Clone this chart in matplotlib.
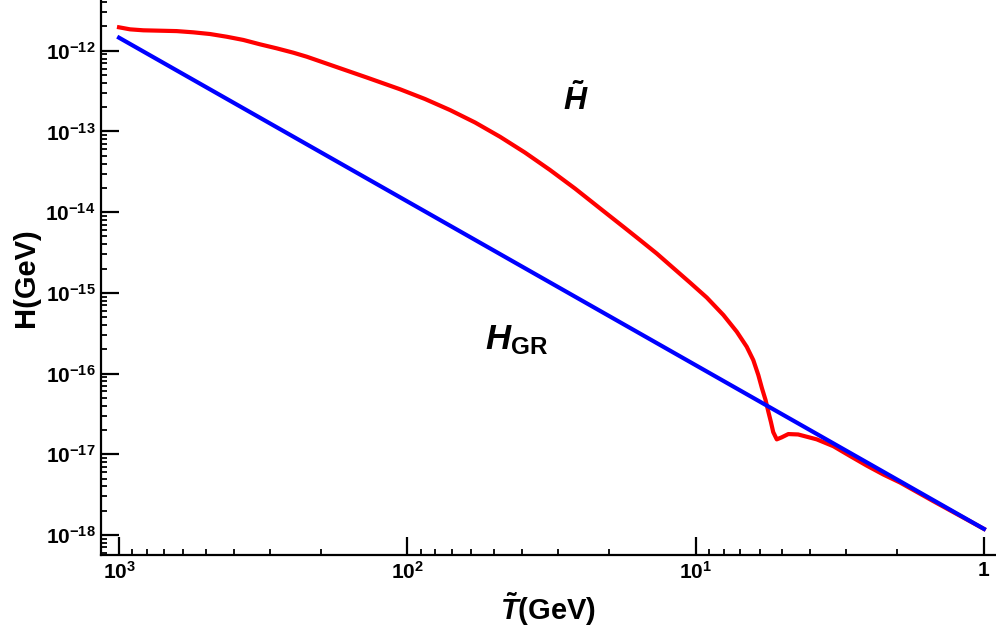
import matplotlib
matplotlib.use("Agg")
import matplotlib.pyplot as plt
from matplotlib.ticker import LogLocator, NullFormatter

# temperature (GeV) and Hubble rate (GeV)
T_mod = [1000, 915.6, 823.6, 720.8, 630.8, 552.5, 483.4, 423.0, 370.7, 324.3,
         283.8, 248.5, 223.3, 181.0, 138.3, 106.0, 86.8, 71.1, 58.2, 47.7,
         39.1, 32.0, 26.2, 21.5, 17.58, 15.59, 13.64, 11.95, 10.46, 9.15,
         8.01, 7.20, 6.65, 6.31, 6.06, 5.89, 5.72, 5.59, 5.48, 5.38, 5.23,
         5.03, 4.77, 4.41, 3.80, 3.33, 2.91, 2.55, 2.23, 1.955, 1.5, 1.2, 1.0]
H_mod = [1.95e-12, 1.84e-12, 1.79e-12, 1.77e-12, 1.75e-12, 1.69e-12,
         1.61e-12, 1.49e-12, 1.36e-12, 1.20e-12, 1.07e-12, 9.45e-13,
         8.43e-13, 6.50e-13, 4.66e-13, 3.33e-13, 2.52e-13, 1.84e-13,
         1.29e-13, 8.59e-14, 5.48e-14, 3.33e-14, 1.96e-14, 1.12e-14,
         6.35e-15, 4.51e-15, 3.07e-15, 2.03e-15, 1.34e-15, 8.75e-16,
         5.31e-16, 3.30e-16, 2.15e-16, 1.47e-16, 9.57e-17, 6.61e-17,
         4.70e-17, 3.33e-17, 2.51e-17, 1.88e-17, 1.53e-17, 1.62e-17,
         1.78e-17, 1.76e-17, 1.53e-17, 1.26e-17, 9.5e-18, 7.24e-18,
         5.6e-18, 4.47e-18, 2.63e-18, 1.70e-18, 1.19e-18]
T_gr = [1000, 1]
H_gr = [1.45e-12, 1.19e-18]

x_ticks = [1000, 100, 10, 1]
x_labels = ['$10^{3}$', '$10^{2}$', '$10^{1}$', '1']
y_ticks = [1e-18, 1e-17, 1e-16, 1e-15, 1e-14, 1e-13, 1e-12]
y_labels = ['$10^{-18}$', '$10^{-17}$', '$10^{-16}$', '$10^{-15}$',
            '$10^{-14}$', '$10^{-13}$', '$10^{-12}$']

plt.rcParams['font.family'] = 'Liberation Sans'
plt.rcParams['font.weight'] = 'bold'
plt.rcParams['mathtext.fontset'] = 'custom'
plt.rcParams['mathtext.rm'] = 'Liberation Sans:bold'
plt.rcParams['mathtext.bf'] = 'Liberation Sans:bold'
plt.rcParams['mathtext.it'] = 'Liberation Sans:bold:italic'

fig = plt.figure(figsize=(9.96, 6.38), dpi=100)
ax = fig.add_axes([0.1014, 0.1301, 0.8986, 0.8699])

ax.plot(T_mod, H_mod, color='#ff0000', lw=3, solid_joinstyle='round')
ax.plot(T_gr, H_gr, color='#0000ff', lw=3)

ax.set_xscale('log')
ax.set_yscale('log')
ax.set_xlim(1155, 0.908)
ax.set_ylim(5.65e-19, 4.25e-12)

for side in ['top', 'right']:
    ax.spines[side].set_visible(False)
for side in ['left', 'bottom']:
    ax.spines[side].set_linewidth(1.6)

ax.set_xticks(x_ticks, x_labels)
ax.set_yticks(y_ticks, y_labels)
ax.xaxis.set_minor_locator(LogLocator(base=10, subs=range(2, 10), numticks=20))
ax.xaxis.set_minor_formatter(NullFormatter())
ax.yaxis.set_minor_locator(LogLocator(base=10, subs=range(2, 10), numticks=20))
ax.yaxis.set_minor_formatter(NullFormatter())

ax.tick_params(which='major', direction='in', length=13, width=1.6,
               labelsize=15, pad=4)
ax.tick_params(which='minor', direction='in', length=4.5, width=1.3)

ax.set_xlabel(r'$\tilde{T}$(GeV)', fontsize=21, fontweight='bold', labelpad=6)
ax.set_ylabel('H(GeV)', fontsize=21, fontweight='bold', labelpad=4)

ax.text(0.530, 0.820, r'$\tilde{H}$', transform=ax.transAxes,
        fontsize=23, ha='center', va='center')
ax.text(0.464, 0.387, r'$H_{\mathrm{GR}}$', transform=ax.transAxes,
        fontsize=25, ha='center', va='center')

fig.savefig('out.png', dpi=100)
